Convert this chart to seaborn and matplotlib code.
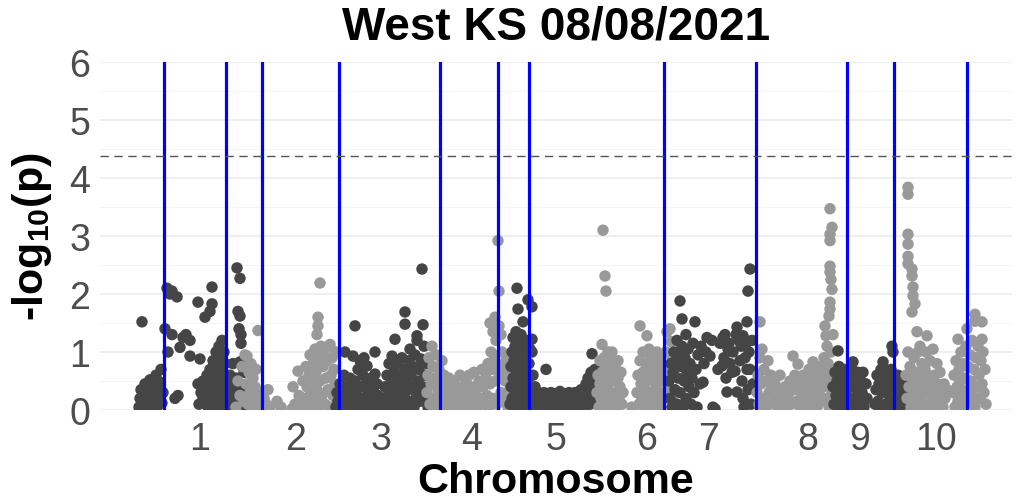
import matplotlib
matplotlib.use("Agg")
import matplotlib.pyplot as plt
import seaborn as sns
import pandas as pd

# Cumulative marker positions along the genome and -log10(p) for each chromosome
chr1 = [(139,0.05),(140,0.2),(141,0.35),(143,0.1),(144,0.28),(145,0.45),(147,0.05),(148,0.18),(149,0.35),(150,0.52),
        (152,0.1),(153,0.25),(154,0.4),(156,0.6),(157,0.05),(158,0.2),(159,0.33),(160,0.48),(161,0.7),(162,0.12),(163,0.3),
        (142,1.52),(165,1.4),(167,2.1),(168,1.0),(170,2.0),(172,2.05),(172,1.3),(175,0.2),(177,1.95),(178,0.25),(180,1.08),
        (183,1.25),(186,1.3),(190,1.2),(190,0.93),(198,1.86),(200,0.88),(198,0.45),(203,0.22),
        (199,0.1),(201,0.3),(203,0.5),(205,0.15),(206,0.38),(207,0.6),(208,0.05),(209,0.25),(210,0.7),(211,0.45),(212,0.1),
        (213,0.85),(213,0.3),(214,0.6),(215,0.05),(216,1.0),(216,0.45),(217,0.2),(218,0.75),(219,0.1),(219,1.1),(220,0.55),
        (221,0.3),(221,0.9),(222,1.2),(222,0.05),(223,0.65),(224,0.4),(224,1.0),(225,0.15),(225,0.8),(226,0.5),
        (205,1.6),(210,1.7),(212,1.83),(212,2.12),
        (228,0.3),(229,0.05),(230,0.6),(231,0.2),(232,0.45),(233,0.8),(234,0.1),(235,0.35),(236,0.55),(237,2.45),(238,1.7),
        (239,1.4),(240,2.27),(240,1.62),(241,1.15),(240,0.83),(238,0.2),(242,0.4),(243,0.05),(244,0.65),(241,1.3)]
chr2 = [(236,0.05),(238,0.5),(240,0.25),(242,0.75),(244,0.15),(245,0.95),(246,0.45),(247,0.93),(248,0.1),(249,0.65),
        (250,0.3),(251,0.8),(252,0.05),(253,0.55),(254,0.2),(255,0.4),(256,0.7),(258,1.37),(258,0.1),(260,0.3),(262,0.05),
        (264,0.2),(266,0.1),(268,0.35),(270,0.05),(277,0.15),(281,0.05),(292,0.02),(293,0.4),(295,0.1),(298,0.67),(299,0.25),
        (302,0.05),(303,0.5),(305,0.2),(306,0.75),(307,0.4),(308,0.05),(309,0.6),(310,0.95),(311,0.3),(312,0.1),(313,0.8),
        (314,0.5),(315,1.05),(315,0.2),(316,0.65),(317,1.3),(317,0.35),(318,1.6),(318,1.45),(318,0.05),(319,0.9),(320,2.19),
        (320,0.5),(321,1.1),(322,0.25),(323,0.75),(324,1.0),(325,0.1),(326,0.55),(327,0.85),(328,0.35),(329,1.1),(330,1.13),
        (330,0.05),(331,0.6),(332,0.9),(333,0.25),(334,0.7),(335,0.45),(336,1.0),(337,0.15)]
chr3 = [(336,0.05),(337,0.3),(338,0.15),(340,0.45),(341,0.02),(342,0.25),(344,0.6),(345,1.0),(346,0.1),(347,0.4),
        (348,0.2),(350,0.55),(351,0.05),(352,0.35),(353,0.93),(354,0.15),(355,1.45),(355,0.5),(357,0.25),(358,0.7),(359,0.05),
        (360,0.85),(360,0.4),(362,0.2),(363,0.6),(364,0.9),(365,0.1),(366,0.45),(367,0.76),(368,0.3),(370,0.05),(371,0.55),
        (372,0.2),(374,0.4),(375,1.0),(375,0.62),(376,0.1),(377,0.45),(378,0.25),(380,0.05),(383,0.15),(385,0.4),(386,0.05),
        (387,0.6),(388,0.25),(389,0.8),(390,0.1),(391,0.45),(392,0.93),(393,0.3),(394,0.65),(395,1.22),(395,0.05),(396,0.5),
        (397,0.2),(398,0.8),(399,0.35),(400,0.6),(401,0.1),(402,0.9),(403,0.45),(404,0.25),(405,1.69),(405,1.48),(405,0.7),
        (406,0.05),(407,0.55),(408,0.35),(409,0.85),(410,1.05),(410,0.15),(411,0.6),(412,0.4),(413,0.75),(414,0.05),(415,0.95),
        (416,0.3),(417,1.28),(417,1.2),(418,0.5),(419,0.7),(420,0.15),(421,0.88),(422,2.43),(423,1.47),(423,0.4),(424,1.1),
        (425,0.6),(426,0.25),(427,0.8),(428,0.05)]
chr4 = [(427,0.3),(428,0.6),(429,0.9),(430,0.1),(431,0.45),(432,1.1),(433,0.75),(434,0.2),(435,0.55),(436,0.95),
        (437,0.05),(438,0.35),(439,0.7),(440,0.15),(441,0.5),(442,0.85),(443,0.3),(444,0.6),(445,0.05),(446,0.4),(448,0.2),
        (449,0.55),(450,0.05),(452,0.3),(454,0.5),(455,0.1),(457,0.4),(458,0.2),(460,0.6),(461,0.05),(462,0.35),(464,0.15),
        (466,0.5),(467,0.25),(469,0.6),(470,0.05),(471,0.4),(473,0.2),(474,0.65),(476,0.35),(477,0.05),(479,0.5),(480,0.2),
        (482,0.7),(483,0.4),(484,0.1),(486,0.55),(487,0.25),(488,0.8),(489,0.05),(490,1.5),(490,0.45),(491,1.0),(492,0.7),
        (493,1.35),(493,0.2),(494,0.95),(495,1.6),(495,0.5),(496,1.2),(497,0.8),(497,0.1),(498,2.92),(499,2.05),(499,1.45),
        (500,0.6),(501,1.3),(501,0.3),(502,1.0),(503,0.75),(504,0.15),(505,0.5),(506,0.85),(507,0.3),(508,0.05),(509,0.6)]
chr5 = [(510,0.1),(511,0.4),(511,0.75),(512,0.2),(512,1.0),(513,0.55),(513,1.25),(514,0.05),(514,0.85),(515,0.3),
        (515,1.1),(516,0.6),(516,1.35),(517,2.1),(517,0.15),(517,0.95),(518,1.74),(518,0.45),(519,1.2),(519,0.7),(520,0.05),
        (520,1.0),(521,0.35),(521,1.3),(522,0.8),(522,0.2),(523,1.52),(523,0.55),(524,1.1),(524,0.05),(525,0.9),(525,0.3),
        (526,0.65),(527,0.15),(527,1.2),(528,1.9),(528,0.45),(529,0.8),(530,0.05),(530,1.05),(531,0.3),(532,1.78),(532,1.22),
        (532,1.0),(533,0.6),(534,0.2),(535,0.4),
        (537,0.1),(538,0.3),(540,0.05),(541,0.2),(543,0.12),(544,0.3),(546,0.7),(546,0.05),(548,0.22),(549,0.1),(551,0.3),
        (552,0.05),(554,0.18),(555,0.28),(557,0.08),(558,0.2),(560,0.32),(561,0.05),(563,0.15),(564,0.28),(566,0.05),(567,0.2),
        (569,0.3),(570,0.1),(572,0.22),(573,0.05),(575,0.3),(576,0.15),(578,0.25),(579,0.05),(581,0.35),(582,0.15),(584,0.3),
        (585,0.05),(586,0.45),(587,0.2),(588,0.55),(589,0.35),(590,0.1),(591,0.65),(592,0.97),(592,0.3),(593,0.5),(595,0.7),
        (595,0.15),(596,0.4)]
chr6 = [(597,0.3),(598,0.6),(599,0.05),(600,0.85),(600,0.45),(601,0.2),(602,1.13),(602,0.65),(603,3.1),(603,0.35),
        (604,0.9),(604,0.1),(605,2.31),(605,0.55),(606,2.05),(606,0.75),(607,0.25),(608,1.0),(608,0.45),(609,0.05),(610,0.65),
        (611,0.3),(612,1.0),(612,0.85),(613,0.15),(614,0.5),(615,0.75),(616,0.3),(617,0.05),(618,0.85),(618,0.55),(619,0.2),
        (620,0.4),(621,0.65),(622,0.1),(623,0.3),(632,0.05),(637,0.3),(638,0.6),(639,0.1),(640,1.45),(640,0.85),(641,0.45),
        (642,0.2),(643,1.0),(643,0.65),(644,0.05),(645,0.35),(646,0.8),(647,1.28),(647,0.5),(648,0.15),(649,1.05),(649,0.7),
        (650,0.3),(651,0.9),(652,0.05),(653,0.55),(654,0.2),(655,0.75),(656,0.4),(657,1.0),(658,0.1),(659,0.6),(660,0.85),
        (660,0.3),(661,0.05),(662,0.5),(663,0.75),(664,0.2),(666,1.0),(667,1.35),(667,0.6),(668,0.35),(670,1.4),(671,1.18),
        (672,0.9),(673,0.15)]
chr7 = [(669,0.5),(670,0.2),(671,0.8),(672,0.05),(673,0.65),(674,1.0),(675,0.35),(676,0.85),(677,1.2),(677,0.1),
        (678,0.55),(679,1.0),(680,1.88),(680,0.3),(681,0.75),(682,1.57),(682,1.1),(683,0.05),(684,0.5),(685,0.9),(686,1.3),
        (686,0.2),(687,0.65),(688,1.05),(689,0.4),(690,0.8),(691,0.1),(692,0.55),(693,1.15),(694,0.3),(695,1.52),(696,0.7),
        (697,0.05),(698,0.95),(700,0.45),(701,1.1),(703,0.48),(704,0.8),(706,1.0),(707,1.25),(710,0.93),(712,1.2),(713,0.05),
        (715,0.02),(718,0.7),(720,1.15),(722,0.76),(723,1.25),(724,0.9),(725,1.3),(726,0.55),(727,0.31),(728,1.05),(729,1.15),
        (730,0.8),(732,0.65),(733,1.0),(735,0.67),(736,1.3),(737,1.43),(737,0.31),(739,1.2),(740,0.85),(741,1.1),(742,0.5),
        (743,0.2),(743,1.28),(744,0.05),(745,0.9),(746,1.15),(747,1.52),(747,0.7),(748,2.05),(748,0.35),(749,1.0),(750,2.43),
        (750,0.7),(751,0.1),(752,1.2),(753,0.45)]
chr8 = [(757,0.3),(758,0.6),(759,0.1),(760,1.52),(760,0.9),(761,0.45),(762,1.05),(763,0.2),(764,0.7),(765,0.05),
        (766,0.5),(768,0.85),(769,0.3),(770,0.1),(771,0.6),(772,0.4),(774,0.15),(775,0.45),(777,0.25),(778,0.05),(780,0.6),
        (781,0.3),(783,0.15),(785,0.4),(786,0.05),(788,0.25),(790,0.5),(791,0.1),(793,0.93),(794,0.35),(795,0.6),(797,0.15),
        (798,0.79),(799,0.45),(800,0.05),(801,0.3),(803,0.6),(804,0.2),(806,0.45),(807,0.05),(809,0.7),(810,0.3),(811,0.55),
        (812,0.1),(813,0.83),(814,0.4),(815,0.2),(816,0.65),(817,0.05),(818,0.5),(819,0.3),(820,0.75),(821,0.15),(822,0.6),
        (823,0.4),(824,0.9),(825,1.45),(825,0.2),(826,1.28),(826,0.65),(827,1.1),(827,0.45),(828,0.8),(829,1.62),(829,0.05),
        (830,3.47),(830,3.03),(830,2.92),(830,2.48),(830,2.38),(830,1.86),(830,1.74),(830,0.55),(831,2.25),(831,1.0),
        (832,3.15),(832,2.08),(832,0.3),(833,1.3),(834,0.7),(835,0.15),(836,0.5)]
chr9 = [(833,0.4),(834,0.1),(835,0.65),(836,0.25),(837,0.5),(838,1.02),(838,0.05),(839,0.75),(840,0.35),(841,0.6),
        (842,0.15),(843,0.45),(844,0.7),(845,0.05),(846,0.3),(847,0.55),(850,0.1),(851,0.4),(852,0.7),(853,0.83),(854,0.2),
        (855,0.55),(856,0.05),(857,0.35),(858,0.65),(860,0.15),(861,0.5),(862,0.3),(863,0.65),(864,0.05),(866,0.45),(867,0.2),
        (875,0.1),(876,0.35),(877,0.6),(878,0.15),(879,0.45),(880,0.05),(881,0.7),(882,0.3),(883,0.83),(884,0.5),(885,0.1),
        (886,0.65),(887,0.35),(888,0.05),(889,0.55),(890,0.2),(891,0.7),(892,1.1),(892,0.4),(893,1.0),(894,0.6),(895,0.1),
        (896,0.45),(897,0.25),(898,0.6),(899,0.05),(900,0.4),(901,0.2),(903,0.5),(904,0.1),(906,0.3)]
chr10 = [(906,0.6),(907,0.2),(908,3.84),(908,3.72),(908,3.03),(908,2.86),(908,2.65),(908,2.52),(908,1.0),(909,0.4),
         (910,0.75),(911,0.05),(912,2.43),(912,2.31),(912,1.69),(912,0.55),(913,2.12),(913,1.97),(913,0.3),(914,0.9),
         (915,1.83),(915,0.15),(916,0.65),(917,1.35),(917,0.4),(918,1.0),(919,0.05),(920,1.1),(920,0.55),(921,0.25),(922,0.8),
         (923,0.45),(924,0.1),(925,0.7),(926,1.0),(927,1.28),(927,0.3),(928,0.55),(929,0.05),(930,0.85),(931,0.4),(932,0.2),
         (933,1.05),(934,0.6),(935,0.3),(936,0.05),(937,0.8),(938,0.45),(939,0.15),(940,0.65),(941,0.3),(943,0.05),(944,0.45),
         (945,0.2),(947,0.35),(953,0.3),(954,0.6),(955,0.05),(956,0.85),(957,0.4),(958,1.22),(958,0.15),(959,0.7),(960,0.5),
         (961,1.0),(962,0.25),(963,0.8),(964,0.05),(965,0.55),(966,1.1),(967,1.4),(967,0.35),(968,0.75),(969,0.15),(970,0.95),
         (971,0.5),(972,1.2),(973,0.25),(974,0.7),(975,1.65),(975,1.53),(975,0.05),(976,0.9),(977,0.4),(978,1.1),(979,0.6),
         (980,0.2),(981,0.85),(982,1.52),(982,1.22),(982,0.45),(983,1.0),(984,0.3),(985,0.7),(986,0.1)]

chromosomes = [chr1, chr2, chr3, chr4, chr5, chr6, chr7, chr8, chr9, chr10]
chrom_labels = ["1", "2", "3", "4", "5", "6", "7", "8", "9", "10"]
chrom_centers = [200, 296, 381, 472, 556, 647, 708, 808, 860, 936]

# Gene / region markers and genome-wide significance threshold
marker_positions = [164, 226, 262, 339, 440, 498, 529, 664, 756, 847, 894, 967]
threshold = 4.38

rows = []
for label, snps in zip(chrom_labels, chromosomes):
    for pos, lp in snps:
        rows.append({"pos": pos, "logp": lp, "chrom": label})
df = pd.DataFrame(rows)

dark, light = "#454545", "#999999"
palette = {lab: (dark if i % 2 == 0 else light) for i, lab in enumerate(chrom_labels)}

sns.set_theme(style="white")
plt.rcParams["font.family"] = ["Liberation Sans", "DejaVu Sans"]
plt.rcParams["mathtext.fontset"] = "custom"
plt.rcParams["mathtext.rm"] = "Liberation Sans"
plt.rcParams["mathtext.bf"] = "Liberation Sans:bold"

fig = plt.figure(figsize=(10.16, 5.02), dpi=100)
ax = fig.add_axes([100 / 1016, 1 - 411 / 502, 912 / 1016, 348 / 502])

# horizontal grid (major at integers, minor at halves)
for yv in [0.5, 1.5, 2.5, 3.5, 4.5, 5.5]:
    ax.axhline(yv, color="#F3F3F3", lw=0.6, zorder=0)
for yv in range(0, 7):
    ax.axhline(yv, color="#EBEBEB", lw=1.1, zorder=0)

sns.scatterplot(data=df, x="pos", y="logp", hue="chrom", palette=palette,
                s=68, edgecolor="none", linewidth=0, legend=False, ax=ax, zorder=2)

for xv in marker_positions:
    ax.axvline(xv, color="#0000FF", lw=2.3, zorder=3)
ax.axhline(threshold, color="#555555", lw=1.0, ls=(0, (6, 4)), zorder=3)

ax.set_xlim(100, 1012)
ax.set_ylim(0, 6)
ax.set_xticks(chrom_centers)
ax.set_xticklabels(chrom_labels)
ax.set_yticks(range(0, 7))
ax.tick_params(axis="both", length=0, labelsize=27, labelcolor="#4D4D4D")
ax.tick_params(axis="x", pad=8)
ax.tick_params(axis="y", pad=7)
for sp in ax.spines.values():
    sp.set_visible(False)

ax.set_xlabel("Chromosome", fontsize=31, fontweight="bold", color="black", labelpad=3)
ax.set_ylabel("-log$_{\\mathbf{10}}$(p)", fontsize=31, fontweight="bold", color="black", labelpad=11)
ax.set_title("West KS 08/08/2021", fontsize=33, fontweight="bold", color="black", pad=17)

fig.savefig("out.png", dpi=100)
